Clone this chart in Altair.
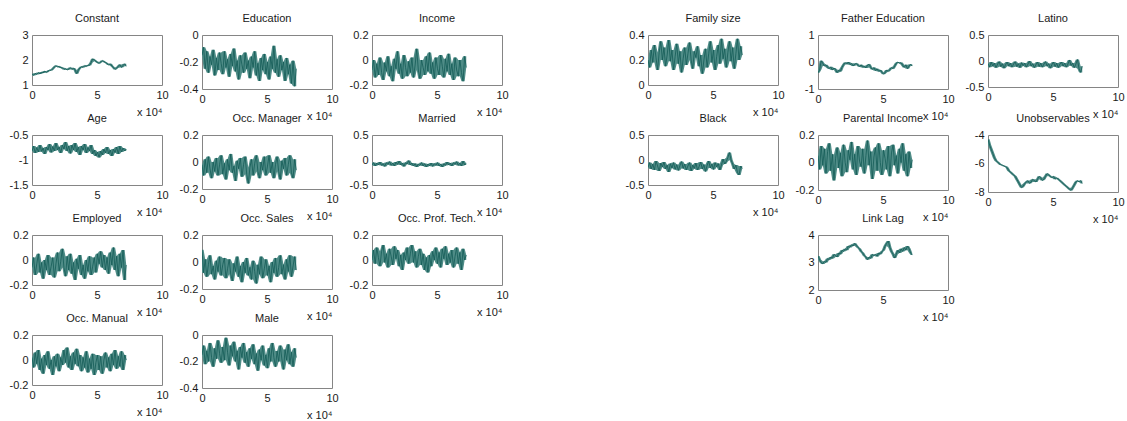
import altair as alt
import numpy as np
import pandas as pd

# ---------------- data ----------------
LAST_ITER = 72500          # traces stop at about 7.25 x 10^4 iterations
X_TICKS = [0, 50000, 100000]

constant = [1.45, 1.38, 1.47, 1.42, 1.5, 1.44, 1.52, 1.48, 1.56, 1.5, 1.55, 1.6,
            1.58, 1.65, 1.72, 1.78, 1.72, 1.75, 1.68, 1.7, 1.62, 1.66, 1.6, 1.64,
            1.7, 1.62, 1.68, 1.6, 1.45, 1.6, 1.68, 1.74, 1.7, 1.78, 1.74, 1.8,
            1.78, 1.9, 2.05, 2.0, 1.95, 1.9, 1.86, 1.92, 1.98, 1.94, 1.9, 1.86,
            1.8, 1.85, 1.76, 1.7, 1.62, 1.68, 1.74, 1.82, 1.7, 1.78, 1.85, 1.75]
education = [-0.15, -0.09, -0.25, -0.12, -0.28, -0.16, -0.22, -0.11, -0.3, -0.17, -0.26, -0.13,
             -0.21, -0.29, -0.12, -0.24, -0.18, -0.31, -0.14, -0.23, -0.1, -0.27, -0.19, -0.33,
             -0.15, -0.22, -0.28, -0.13, -0.25, -0.19, -0.32, -0.16, -0.24, -0.12, -0.3, -0.21,
             -0.34, -0.17, -0.26, -0.14, -0.29, -0.2, -0.33, -0.16, -0.25, -0.08, -0.28, -0.18,
             -0.31, -0.15, -0.26, -0.2, -0.34, -0.17, -0.29, -0.22, -0.36, -0.19, -0.38, -0.25]
income = [-0.08, 0.0, -0.14, -0.03, -0.12, 0.02, -0.1, -0.16, -0.02, -0.09, 0.03, -0.13,
          -0.05, -0.17, 0.01, -0.07, 0.07, -0.11, -0.03, -0.15, 0.04, -0.06, -0.13, -0.01,
          -0.1, 0.02, -0.14, -0.04, 0.09, -0.08, -0.15, 0.0, -0.06, -0.12, 0.03, -0.09,
          0.06, -0.11, -0.02, -0.15, 0.02, -0.07, -0.12, 0.04, -0.05, -0.14, 0.01, -0.09,
          0.05, -0.12, -0.03, -0.16, 0.02, -0.08, -0.13, 0.0, -0.1, -0.17, 0.03, -0.06]
age = [-0.82, -0.72, -0.86, -0.75, -0.84, -0.7, -0.83, -0.76, -0.88, -0.74, -0.8, -0.68,
       -0.85, -0.73, -0.82, -0.66, -0.8, -0.74, -0.86, -0.7, -0.78, -0.64, -0.82, -0.72,
       -0.87, -0.7, -0.8, -0.66, -0.84, -0.74, -0.9, -0.72, -0.8, -0.68, -0.86, -0.75,
       -0.82, -0.7, -0.88, -0.8, -0.92, -0.84, -0.95, -0.82, -0.9, -0.78, -0.86, -0.74,
       -0.88, -0.8, -0.92, -0.78, -0.85, -0.74, -0.88, -0.72, -0.84, -0.76, -0.82, -0.78]
occ_manager = [-0.02, -0.1, 0.02, -0.08, 0.04, -0.05, -0.12, 0.0, -0.07, 0.03, -0.1, -0.02,
               0.05, -0.09, -0.01, -0.13, 0.02, -0.06, 0.06, -0.08, -0.03, -0.14, 0.01, -0.05,
               0.03, -0.11, -0.02, 0.04, -0.09, -0.16, -0.04, 0.02, -0.1, -0.01, 0.05, -0.07,
               -0.12, 0.0, -0.06, 0.04, -0.1, -0.03, 0.05, -0.08, 0.0, -0.12, -0.02, 0.04,
               -0.07, -0.13, 0.01, -0.05, 0.03, -0.1, -0.02, 0.05, -0.08, -0.12, 0.02, -0.06]
married = [-0.1, -0.05, -0.12, -0.06, -0.1, -0.04, -0.11, -0.07, -0.13, -0.05, -0.09, -0.03,
           -0.11, -0.06, -0.12, -0.04, -0.09, -0.02, -0.1, -0.06, -0.13, -0.05, -0.08, -0.01,
           -0.1, -0.06, -0.12, -0.07, -0.14, -0.08, -0.11, -0.05, -0.12, -0.07, -0.14, -0.08,
           -0.12, -0.06, -0.13, -0.07, -0.11, -0.05, -0.12, -0.08, -0.14, -0.07, -0.11, -0.04,
           -0.1, -0.06, -0.12, -0.05, -0.09, -0.03, -0.11, -0.06, -0.12, -0.02, -0.1, -0.07]
employed = [-0.06, 0.02, -0.12, -0.03, 0.05, -0.1, -0.02, -0.15, 0.0, -0.08, 0.04, -0.12,
            -0.05, 0.02, -0.14, -0.03, 0.06, -0.09, -0.01, 0.09, -0.06, -0.13, 0.03, -0.08,
            0.05, -0.11, -0.02, -0.16, 0.01, -0.07, 0.04, -0.12, -0.04, -0.15, 0.0, -0.09,
            0.03, -0.12, -0.05, 0.02, -0.1, 0.05, -0.03, 0.07, -0.06, 0.04, -0.08, 0.02,
            -0.11, 0.06, -0.04, 0.1, -0.08, 0.03, -0.13, 0.05, -0.06, 0.08, -0.16, -0.04]
occ_sales = [0.09, -0.08, 0.02, -0.11, -0.02, 0.05, -0.09, -0.03, -0.13, 0.01, -0.07, 0.04,
             -0.1, -0.02, 0.03, -0.12, -0.05, 0.02, -0.09, -0.14, -0.01, -0.07, 0.04, -0.11,
             -0.03, -0.15, 0.0, -0.08, 0.03, -0.1, -0.04, -0.13, 0.01, -0.07, -0.16, -0.02,
             -0.09, 0.04, -0.12, -0.05, 0.02, -0.1, -0.03, -0.15, 0.0, -0.08, 0.03, -0.11,
             -0.04, 0.05, -0.09, -0.02, -0.13, 0.02, -0.07, 0.05, -0.11, -0.03, 0.04, -0.06]
occ_prof_tech = [0.0, 0.08, -0.03, 0.1, 0.02, -0.05, 0.07, 0.12, -0.02, 0.05, -0.06, 0.09,
                 0.03, -0.04, 0.11, 0.01, 0.08, -0.05, 0.04, -0.08, 0.06, 0.0, 0.1, -0.03,
                 0.05, 0.12, -0.02, 0.07, -0.06, 0.03, 0.09, -0.04, 0.05, -0.08, 0.02, -0.1,
                 0.04, -0.05, 0.07, 0.0, 0.1, -0.03, 0.06, -0.06, 0.09, 0.01, 0.11, -0.04,
                 0.05, -0.02, 0.08, -0.06, 0.03, 0.1, -0.03, 0.06, -0.08, 0.09, 0.0, 0.04]
occ_manual = [0.02, -0.06, 0.06, -0.03, 0.08, -0.08, 0.01, -0.11, 0.04, -0.04, 0.07, -0.07,
              0.0, -0.12, 0.03, -0.05, 0.05, -0.09, 0.02, -0.04, 0.08, -0.02, 0.1, -0.06,
              0.03, -0.08, 0.06, -0.03, 0.09, -0.05, 0.04, -0.09, 0.02, -0.06, 0.07, -0.1,
              0.01, -0.07, 0.05, -0.12, -0.02, 0.04, -0.08, 0.03, -0.11, 0.0, 0.06, -0.06,
              0.02, -0.09, 0.05, -0.04, 0.08, -0.07, 0.03, -0.05, 0.07, -0.08, 0.04, 0.0]
male = [-0.15, -0.08, -0.22, -0.12, -0.2, -0.06, -0.17, -0.24, -0.1, -0.18, -0.04, -0.14,
        -0.21, -0.09, -0.19, -0.02, -0.13, -0.23, -0.08, -0.16, -0.05, -0.2, -0.12, -0.26,
        -0.09, -0.17, -0.06, -0.21, -0.13, -0.24, -0.1, -0.18, -0.07, -0.22, -0.14, -0.27,
        -0.11, -0.19, -0.08, -0.23, -0.15, -0.25, -0.1, -0.2, -0.06, -0.17, -0.24, -0.12,
        -0.2, -0.08, -0.18, -0.26, -0.11, -0.19, -0.07, -0.22, -0.13, -0.24, -0.1, -0.17]
family_size = [0.2, 0.14, 0.28, 0.18, 0.32, 0.22, 0.12, 0.26, 0.35, 0.2, 0.3, 0.15,
               0.24, 0.36, 0.19, 0.28, 0.12, 0.23, 0.33, 0.17, 0.27, 0.1, 0.21, 0.3,
               0.16, 0.25, 0.34, 0.2, 0.13, 0.27, 0.22, 0.31, 0.15, 0.24, 0.09, 0.2,
               0.29, 0.14, 0.25, 0.35, 0.18, 0.28, 0.12, 0.23, 0.32, 0.17, 0.37, 0.21,
               0.29, 0.14, 0.26, 0.35, 0.19, 0.3, 0.13, 0.25, 0.37, 0.2, 0.31, 0.24]
father_education = [-0.4, -0.3, 0.05, -0.05, -0.15, -0.1, -0.2, -0.25, -0.18, -0.3, -0.22, -0.28,
                    -0.4, -0.3, -0.35, -0.2, -0.1, -0.02, -0.08, 0.0, -0.1, -0.05, -0.15, -0.08,
                    -0.05, -0.12, -0.18, -0.1, -0.2, -0.15, -0.22, -0.12, -0.08, -0.2, -0.28, -0.2,
                    -0.32, -0.25, -0.35, -0.3, -0.38, -0.45, -0.4, -0.3, -0.35, -0.28, -0.2, -0.25,
                    -0.15, -0.05, 0.0, -0.05, -0.02, -0.12, -0.2, -0.1, -0.25, -0.15, -0.08, -0.15]
latino = [-0.05, -0.12, -0.02, -0.1, -0.04, -0.13, -0.06, -0.01, -0.11, -0.05, -0.14, -0.07,
          -0.02, -0.1, -0.04, -0.12, -0.06, -0.01, -0.11, -0.05, -0.13, -0.03, -0.09, -0.04,
          -0.12, -0.06, 0.0, -0.1, -0.05, -0.13, -0.07, -0.02, -0.11, -0.04, -0.12, -0.06,
          -0.01, -0.1, -0.05, -0.14, -0.07, -0.02, -0.11, -0.04, -0.13, -0.06, -0.02, -0.1,
          -0.04, -0.12, -0.06, 0.02, -0.09, -0.04, -0.13, -0.06, 0.03, -0.15, -0.22, -0.1]
black = [-0.15, -0.05, -0.18, -0.08, -0.2, -0.02, -0.12, -0.22, -0.06, -0.14, -0.04, -0.18,
         -0.1, -0.24, -0.07, -0.16, -0.05, -0.19, -0.09, -0.21, -0.11, -0.03, -0.17, -0.08,
         -0.2, -0.12, -0.05, -0.22, -0.1, -0.17, -0.06, -0.2, -0.13, -0.04, -0.18, -0.09,
         -0.23, -0.11, -0.02, -0.16, -0.08, -0.19, -0.05, -0.14, -0.07, -0.2, -0.1, 0.02,
         -0.08, -0.03, 0.05, 0.15, 0.0, -0.08, -0.18, -0.1, -0.25, -0.3, -0.12, -0.17]
parental_income = [0.05, -0.05, 0.12, -0.02, 0.1, -0.08, 0.08, 0.14, -0.06, 0.06, -0.13, 0.03,
                   0.11, -0.04, 0.07, -0.1, 0.13, 0.0, -0.07, 0.09, 0.02, 0.15, -0.05, 0.06,
                   -0.09, 0.12, 0.01, -0.03, 0.1, -0.08, 0.05, 0.16, -0.02, 0.08, -0.12, 0.04,
                   0.11, -0.06, 0.14, 0.0, -0.09, 0.09, 0.03, -0.05, 0.12, -0.1, 0.07, 0.13,
                   -0.02, 0.05, -0.08, 0.1, 0.0, 0.14, -0.06, 0.06, -0.1, 0.08, -0.04, 0.02]
unobservables = [-4.3, -4.7, -5.0, -5.3, -5.6, -5.8, -5.9, -6.0, -6.1, -6.1, -6.2, -6.2,
                 -6.3, -6.5, -6.6, -6.7, -6.8, -6.9, -7.1, -7.3, -7.5, -7.7, -7.6, -7.4,
                 -7.3, -7.2, -7.4, -7.3, -7.1, -7.2, -7.3, -7.1, -6.9, -7.0, -7.2, -7.1,
                 -6.9, -6.7, -6.8, -6.9, -7.0, -6.9, -7.1, -7.0, -7.1, -7.2, -7.3, -7.4,
                 -7.5, -7.6, -7.7, -7.8, -7.9, -7.7, -7.5, -7.3, -7.2, -7.3, -7.2, -7.4]
link_lag = [3.24, 3.1, 3.0, 2.95, 3.05, 3.0, 3.15, 3.1, 3.2, 3.15, 3.3, 3.25,
            3.2, 3.35, 3.3, 3.45, 3.4, 3.5, 3.45, 3.6, 3.55, 3.65, 3.6, 3.7,
            3.62, 3.55, 3.5, 3.4, 3.35, 3.25, 3.2, 3.1, 3.2, 3.15, 3.3, 3.25,
            3.3, 3.22, 3.35, 3.3, 3.4, 3.45, 3.6, 3.7, 3.78, 3.55, 3.4, 3.3,
            3.16, 3.3, 3.45, 3.35, 3.5, 3.4, 3.55, 3.45, 3.6, 3.5, 3.35, 3.27]

# y-axis tick labels of each panel
ticks_constant = [1, 2, 3]
ticks_education = [-0.4, -0.2, 0]
ticks_pm02 = [-0.2, 0, 0.2]
ticks_age = [-1.5, -1, -0.5]
ticks_pm05 = [-0.5, 0, 0.5]
ticks_male = [-0.4, -0.2, 0]
ticks_family = [0, 0.2, 0.4]
ticks_father = [-1, 0, 1]
ticks_unobs = [-8, -6, -4]
ticks_link = [2, 3, 4]

# ---------------- styling ----------------
FONT = "Liberation Sans"
TXT = "#1a1a1a"
TEAL = "#145c57"
HALO = "#4f8c87"
FRAME = "#858585"
W = 130


def panel(title, values, yticks, h):
    df = pd.DataFrame({"iteration": np.linspace(0, LAST_ITER, len(values)),
                       "value": values})
    xscale = alt.Scale(domain=[0, 100000], nice=False, zero=False)
    yscale = alt.Scale(domain=[yticks[0], yticks[-1]], nice=False, zero=False)
    xaxis = alt.Axis(values=X_TICKS, labelExpr="datum.value / 10000",
                     title="x 10\u2074", titleX=W, titleY=30,
                     titleAlign="right", titleBaseline="alphabetic",
                     titleFont=FONT, titleFontSize=11, titleFontWeight="normal",
                     titleColor=TXT, labelFlush=False, labelOverlap=False,
                     grid=False, ticks=False, domain=False, labelPadding=4)
    yaxis = alt.Axis(values=yticks, labelExpr="'' + datum.value", title=None,
                     labelFlush=False, labelOverlap=False, grid=False,
                     ticks=False, domain=False, labelPadding=4)
    x = alt.X("iteration:Q", scale=xscale, axis=xaxis)
    base = alt.Chart(df)
    srt = [alt.SortField("iteration")]
    halo = (base.transform_window(lo="min(value)", hi="max(value)", frame=[-1, 1], sort=srt)
            .mark_area(color=HALO, clip=True)
            .encode(x=x, y=alt.Y("lo:Q", scale=yscale, axis=yaxis, title=None), y2="hi:Q"))
    core = (base.mark_line(color=TEAL, strokeWidth=0.8, clip=True)
            .encode(x=x, y=alt.Y("value:Q", scale=yscale, axis=yaxis, title=None)))
    return (alt.layer(halo, core, title=alt.TitleParams(title))
            .properties(width=W, height=h))


def blank(w):
    return (alt.Chart(pd.DataFrame({"v": [0]}))
            .mark_point(opacity=0)
            .encode(x=alt.value(0), y=alt.value(0))
            .properties(width=w, height=10,
                        view=alt.ViewBackground(strokeOpacity=0, fillOpacity=0)))


GAP = 66  # spacer column between the two groups

cells = [
    panel("Constant", constant, ticks_constant, 50),
    panel("Education", education, ticks_education, 54),
    panel("Income", income, ticks_pm02, 50),
    blank(GAP),
    panel("Family size", family_size, ticks_family, 50),
    panel("Father Education", father_education, ticks_father, 54),
    panel("Latino", latino, ticks_pm05, 52),

    panel("Age", age, ticks_age, 50),
    panel("Occ. Manager", occ_manager, ticks_pm02, 54),
    panel("Married", married, ticks_pm05, 50),
    blank(GAP),
    panel("Black", black, ticks_pm05, 50),
    panel("Parental Income", parental_income, ticks_pm02, 55),
    panel("Unobservables", unobservables, ticks_unobs, 57),

    panel("Employed", employed, ticks_pm02, 50),
    panel("Occ. Sales", occ_sales, ticks_pm02, 54),
    panel("Occ. Prof. Tech.", occ_prof_tech, ticks_pm02, 50),
    blank(GAP),
    blank(10),
    panel("Link Lag", link_lag, ticks_link, 55),
    blank(10),

    panel("Occ. Manual", occ_manual, ticks_pm02, 50),
    panel("Male", male, ticks_male, 53),
]

chart = (
    alt.concat(*cells, columns=7, spacing={"row": 43, "column": 40},
               bounds="flush", align={"row": "all", "column": "each"})
    .properties(padding={"left": 8, "top": 12, "right": 0, "bottom": 0},
                background="white")
    .configure_view(stroke=FRAME, strokeWidth=1)
    .configure_axis(labelFont=FONT, labelFontSize=11, labelColor=TXT)
    .configure_title(font=FONT, fontSize=11, fontWeight="normal", color=TXT, offset=5)
)

chart.save("out.html", embed_options={"renderer": "svg", "actions": False})
